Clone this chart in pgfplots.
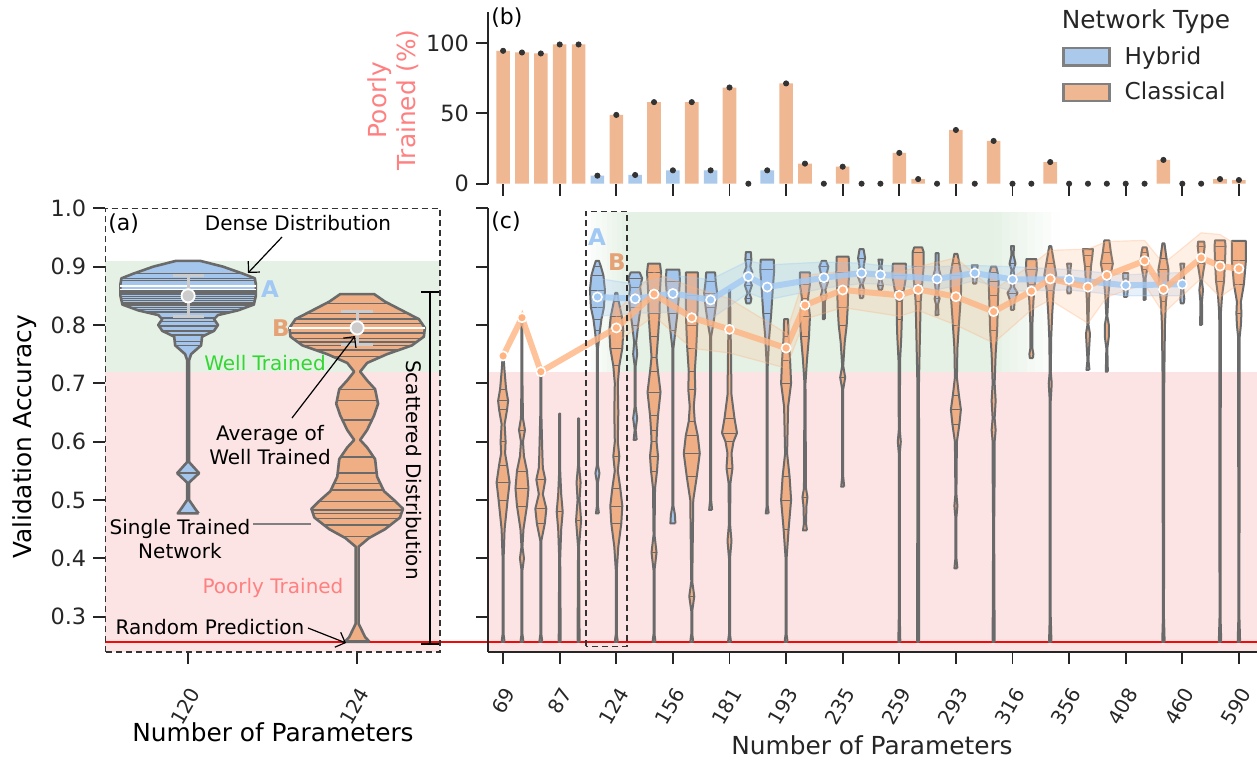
\documentclass[border=0pt]{standalone}
\usepackage{fontspec}
\setmainfont{DejaVu Sans}
\usepackage{pgfplots}
\pgfplotsset{compat=1.18}
\usetikzlibrary{arrows.meta}

\definecolor{barH}{RGB}{171,201,234}
\definecolor{barC}{RGB}{239,183,146}
\definecolor{vioH}{RGB}{164,198,236}
\definecolor{vioC}{RGB}{240,174,132}
\definecolor{lineH}{RGB}{161,201,244}
\definecolor{lineC}{RGB}{255,180,130}
\definecolor{edge}{RGB}{106,106,106}
\definecolor{pinkbg}{RGB}{252,228,228}
\definecolor{greenbg}{RGB}{229,241,229}
\definecolor{txt}{RGB}{38,38,38}
\definecolor{coral}{RGB}{255,128,128}
\definecolor{wellgreen}{RGB}{50,215,50}
\definecolor{meangray}{RGB}{204,204,204}
\definecolor{rline}{RGB}{240,10,10}

\newcommand\tickfont{\fontsize{11.2}{13}\selectfont}
\newcommand\xtickfont{\fontsize{10}{12}\selectfont}
\newcommand\labfont{\fontsize{12.4}{14.6}\selectfont}
\newcommand\annfont{\fontsize{10}{12.4}\selectfont}

\pgfplotsset{
  vC/.style={fill=vioC, draw=edge, line width=1pt, line join=round},
  vH/.style={fill=vioH, draw=edge, line width=1pt, line join=round},
  vCa/.style={fill=vioC, draw=edge, line width=1.3pt, line join=round},
  vHa/.style={fill=vioH, draw=edge, line width=1.3pt, line join=round},
  stk/.style={edge, line width=0.7pt, unbounded coords=jump},
  stkw/.style={white, line width=0.9pt, unbounded coords=jump},
  stkc/.style={edge, line width=0.35pt, unbounded coords=jump},
}

% violin: #1 position, #2 axis units per pixel, #3 style, #4 list of y/halfwidth(px)
\newcommand\violin[4]{%
  \gdef\vR{}\gdef\vL{}\gdef\vF{}\gdef\vS{}%
  \foreach \yy/\ww in {#4}{%
    \pgfmathsetmacro\xr{#1+\ww*#2}%
    \pgfmathsetmacro\xl{#1-\ww*#2}%
    \ifx\vF\empty\xdef\vF{(\xr,\yy)}\fi
    \xdef\vR{\vR(\xr,\yy)}%
    \xdef\vL{(\xl,\yy)\vL}%
    \pgfmathtruncatemacro\wide{\ww>2.4 ? 1 : 0}%
    \ifnum\wide=1 \xdef\vS{\vS(\xl,\yy)(\xr,\yy)(nan,nan)}\fi
  }%
  \edef\tmp{\noexpand\addplot[#3] coordinates {\vR\vL\vF};}%
  \tmp}
% same, with thin sticks at the wider knots
\newcommand\violinS[4]{%
  \violin{#1}{#2}{#3}{#4}%
  \ifx\vS\empty\else
    \edef\tmp{\noexpand\addplot[stkc] coordinates {\vS};}\tmp
  \fi}
% sticks inside a violin, same arguments
\newcommand\sticks[4]{%
  \gdef\vS{}%
  \foreach \yy/\ww in {#4}{%
    \pgfmathsetmacro\xr{#1+\ww*#2}%
    \pgfmathsetmacro\xl{#1-\ww*#2}%
    \xdef\vS{\vS(\xl,\yy)(\xr,\yy)(nan,nan)}%
  }%
  \edef\tmp{\noexpand\addplot[#3] coordinates {\vS};}%
  \tmp}
% spread band: #1 style, #2 list of x/lo/hi
\newcommand\band[2]{%
  \gdef\vR{}\gdef\vL{}\gdef\vF{}%
  \foreach \xx/\lo/\hi in {#2}{%
    \ifx\vF\empty\xdef\vF{(\xx,\hi)}\fi
    \xdef\vR{\vR(\xx,\hi)}%
    \xdef\vL{(\xx,\lo)\vL}%
  }%
  \edef\tmp{\noexpand\addplot[#1] coordinates {\vR\vL\vF};}%
  \tmp}

\pgfplotstableread{
x   m
5   0.848
7   0.845
9   0.854
11  0.843
13  0.883
14  0.865
17  0.881
19  0.889
20  0.886
23  0.879
25  0.889
27  0.878
30  0.878
33  0.868
36  0.870
}\hyb
\pgfplotstableread{
x   m
0   0.747
1   0.8125
2   0.720
6   0.795
8   0.853
10  0.8125
12  0.7925
15  0.7605
16  0.834
18  0.860
21  0.851
22  0.861
24  0.8485
26  0.823
28  0.858
29  0.879
31  0.865
32  0.885
34  0.910
35  0.861
37  0.915
38  0.901
39  0.8965
}\cls

\begin{document}
\begin{tikzpicture}
\path[use as bounding box] (0pt,0pt) rectangle (628.5pt,-380pt);

% ---------------- (b) poorly trained bars
\begin{axis}[
  at={(244pt,-91.85pt)}, anchor=south west, scale only axis,
  width=384.5pt, height=86pt,
  xmin=-0.8, xmax=39.96, ymin=0, ymax=122.3, clip=false, axis on top,
  axis y line*=left, axis x line*=bottom,
  y axis line style={-, txt, line width=0.8pt},
  x axis line style={draw=none},
  xtick={0,3,...,39}, xticklabels={},
  ytick={0,50,100},
  tick align=outside, major tick length=6pt,
  every tick/.style={txt, line width=0.9pt},
  yticklabel style={font=\tickfont, text=txt, /pgf/number format/assume math mode=true},
  legend style={at={(axis description cs:0.7387,0.8465)}, anchor=north west,
    draw=none, fill=none, font=\fontsize{11.6}{13}\selectfont, row sep=3.5pt,
    text=txt},
  legend cell align=left,
]
\addplot[ybar, bar width=0.72, bar shift=0pt, fill=barC, draw=none, forget plot] coordinates {
(0,94.5)(1,93.3)(2,92.6)(3,99)(4,99)(6,48.9)(8,58)(10,58)(12,68.4)(15,71.3)
(16,14.3)(18,12.1)(21,21.9)(22,3.3)(24,38.2)(26,30.4)(29,15.4)(35,16.9)(38,3.3)(39,2.6)};
\addplot[ybar, bar width=0.72, bar shift=0pt, fill=barH, draw=none, forget plot] coordinates {
(5,5.7)(7,6.2)(9,9.5)(11,9.5)(14,9.5)};
\addplot[only marks, mark=*, mark size=1.3pt, black!80, forget plot] coordinates {
(0,94.5)(1,93.3)(2,92.6)(3,99)(4,99)(5,5.7)(6,48.9)(7,6.2)(8,58)(9,9.5)(10,58)(11,9.5)
(12,68.4)(13,0)(14,9.5)(15,71.3)(16,14.3)(17,0)(18,12.1)(19,0)(20,0)(21,21.9)(22,3.3)
(23,0)(24,38.2)(25,0)(26,30.4)(27,0)(28,0)(29,15.4)(30,0)(31,0)(32,0)(33,0)(34,0)
(35,16.9)(36,0)(37,0)(38,3.3)(39,2.6)};
\addlegendimage{legend image code/.code={\draw[fill=barH, draw=gray, line width=1.1pt] (0pt,-4.3pt) rectangle (23pt,4.3pt);}}
\addlegendentry{\hspace*{5pt}Hybrid}
\addlegendimage{legend image code/.code={\draw[fill=barC, draw=gray, line width=1.1pt] (0pt,-4.3pt) rectangle (23pt,4.3pt);}}
\addlegendentry{\hspace*{5pt}Classical}
\end{axis}

% ---------------- (a) zoomed violins
\begin{axis}[
  at={(52.65pt,-326pt)}, anchor=south west, scale only axis,
  width=167.35pt, height=221.85pt,
  xmin=-0.49, xmax=1.49, ymin=0.2395, ymax=1.0, clip=false, axis on top,
  axis line style={black!80, line width=0.6pt, dash pattern=on 3pt off 2pt},
  xtick={0,1}, xticklabels={120,124},
  ytick={0.3,0.4,0.5,0.6,0.7,0.8,0.9,1.0},
  xtick pos=left, ytick pos=left,
  tick align=outside, major tick length=6pt,
  every tick/.style={solid, txt, line width=0.9pt},
  yticklabel style={font=\tickfont, text=txt, /pgf/number format/.cd, fixed, fixed zerofill, precision=1, assume math mode=true},
  xticklabel shift=12.5pt,
  xticklabel style={font=\xtickfont, text=txt, rotate=60, anchor=east, xshift=5pt, yshift=-3pt},
]
\fill[pinkbg] (axis cs:-0.49,0.2395) rectangle (axis cs:1.49,0.72);
\fill[greenbg] (axis cs:-0.49,0.72) rectangle (axis cs:1.49,0.91);
\addplot[draw=rline, line width=0.7pt] coordinates {(-0.49,0.257)(1.768,0.257)};
\violin{0}{0.005893}{vHa}{0.477/10.5,0.485/7,0.50/1,0.53/1,0.546/11,0.565/1,0.74/1,0.75/3,0.765/13,0.78/14,0.79/26,0.80/30,0.81/26,0.817/30,0.825/50,0.835/66,0.85/68,0.87/68,0.88/67,0.888/55,0.90/35,0.91/12}
\sticks{0}{0.005893}{stk}{0.479/9,0.546/10.5,0.765/13,0.772/13.5,0.783/18,0.79/26,0.798/29,0.806/27,0.812/27,0.822/42,0.827/55,0.830/59,0.834/64,0.838/66.5,0.842/67,0.845/67.5,0.849/68,0.852/68,0.855/68,0.858/68,0.876/67.5,0.880/66,0.888/55}
\sticks{0}{0.005893}{stkw}{0.867/68,0.861/68}
\violin{1}{0.005893}{vCa}{0.257/12.5,0.265/8,0.288/1.5,0.42/1.5,0.435/12,0.45/28,0.47/43,0.485/46,0.50/37,0.515/27,0.54/20,0.57/18,0.59/10,0.603/3,0.62/10,0.645/17,0.665/21,0.69/18,0.705/10,0.72/3,0.735/10,0.75/30,0.765/55,0.78/67,0.795/68,0.81/62,0.825/45,0.84/28,0.853/17}
\sticks{1}{0.005893}{stk}{0.259/12.5,0.437/14,0.457/33,0.468/41,0.477/44,0.483/45.6,0.497/38.8,0.517/26.6,0.528/23.4,0.546/19.6,0.574/16.7,0.637/15,0.671/20,0.689/18,0.746/24,0.757/41,0.765/55,0.771/60,0.777/64.6,0.786/67.4,0.803/64.5,0.81/62,0.82/51,0.837/31}
\sticks{1}{0.005893}{stkw}{0.795/68}
% mean of well trained with spread
\addplot[meangray, line width=1.6pt, unbounded coords=jump] coordinates {
(0,0.815)(0,0.885)(nan,nan)(-0.092,0.885)(0.092,0.885)(nan,nan)(-0.092,0.815)(0.092,0.815)(nan,nan)
(1,0.767)(1,0.823)(nan,nan)(0.906,0.823)(1.094,0.823)(nan,nan)(0.906,0.767)(1.094,0.767)};
\addplot[only marks, mark=*, mark size=3.3pt, fill=meangray, draw=white, line width=0.9pt] coordinates {(0,0.85)(1,0.795)};
\end{axis}

% ---------------- (c) all networks
\def\vs{0.053}
\begin{axis}[
  at={(244pt,-326pt)}, anchor=south west, scale only axis,
  width=384.5pt, height=221.85pt,
  xmin=-0.8, xmax=39.96, ymin=0.2395, ymax=1.0, axis on top, clip=false,
  axis x line*=bottom, axis y line*=left,
  axis line style={-, txt, line width=0.8pt},
  xtick={0,3,...,39},
  xticklabels={69,87,124,156,181,193,235,259,293,316,356,408,460,590},
  ytick={0.3,0.4,0.5,0.6,0.7,0.8,0.9,1.0}, yticklabels={},
  tick align=outside, major tick length=6pt,
  every tick/.style={txt, line width=0.9pt},
  xticklabel shift=12.5pt,
  xticklabel style={font=\xtickfont, text=txt, rotate=60, anchor=east, xshift=5pt, yshift=-3pt},
]
\fill[pinkbg] (axis cs:-0.8,0.2395) rectangle (axis cs:39.96,0.72);
\fill[greenbg] (axis cs:6.5,0.72) rectangle (axis cs:26.1,0.993);
% fading edges of the green region
\foreach \i in {0,...,7}{%
  \pgfmathsetmacro\xa{4.4+\i*0.275}\pgfmathsetmacro\xb{4.4+(\i+1)*0.275+0.02}%
  \pgfmathsetmacro\pc{(\i+0.5)*12.5}%
  \edef\tmp{\noexpand\fill[greenbg!\pc!white] (axis cs:\xa,0.72) rectangle (axis cs:\xb,0.993);}\tmp
  \pgfmathsetmacro\xa{26+\i*0.4375}\pgfmathsetmacro\xb{26+(\i+1)*0.4375+0.02}%
  \pgfmathsetmacro\pc{100-(\i+0.5)*12.5}%
  \edef\tmp{\noexpand\fill[greenbg!\pc!white] (axis cs:\xa,0.72) rectangle (axis cs:\xb,0.993);}\tmp
}
\addplot[draw=rline, line width=0.7pt] coordinates {(-0.8,0.257)(39.96,0.257)};

\violinS{0}{\vs}{vC}{0.257/1.5,0.27/0.5,0.40/0.5,0.45/1.5,0.50/4.5,0.53/6.5,0.56/4,0.58/2,0.60/2.5,0.63/1.5,0.655/4,0.67/5,0.69/3,0.72/1.5,0.745/0.5}
\violinS{1}{\vs}{vC}{0.257/1.5,0.27/0.5,0.38/0.5,0.40/2,0.42/0.5,0.45/1.5,0.49/5,0.52/6.5,0.55/5,0.575/2,0.60/1,0.62/3,0.64/1,0.70/0.5,0.812/0.5}
\violinS{2}{\vs}{vC}{0.257/1.5,0.27/0.5,0.43/0.5,0.46/4,0.485/5.5,0.51/2,0.535/4.5,0.555/2,0.58/1.5,0.65/0.5,0.72/0.5}
\violinS{3}{\vs}{vC}{0.257/1,0.40/0.5,0.45/1.5,0.48/3,0.51/1.5,0.55/0.5,0.648/0.5}
\violinS{4}{\vs}{vC}{0.257/1,0.42/0.5,0.465/2.5,0.50/1,0.53/2,0.56/0.5,0.64/0.5}
\violinS{5}{\vs}{vH}{0.477/1.5,0.49/0.5,0.53/0.5,0.546/2,0.56/0.5,0.76/0.5,0.79/2.5,0.81/4,0.83/6.5,0.86/7.5,0.885/6,0.90/3.5,0.91/1.5}
\violinS{6}{\vs}{vC}{0.257/1.5,0.27/0.5,0.38/0.5,0.42/2,0.46/5,0.49/6,0.52/4,0.55/1.5,0.575/3,0.60/1.5,0.65/2,0.70/1.5,0.73/3,0.76/6,0.79/7,0.815/5.5,0.84/2.5,0.855/1}
\violinS{7}{\vs}{vH}{0.603/1.5,0.62/0.5,0.64/2,0.66/0.5,0.73/0.5,0.75/2,0.77/1,0.80/3,0.83/5.5,0.85/6,0.865/5,0.88/7,0.89/4.5}
\violinS{8}{\vs}{vC}{0.257/1.5,0.27/0.5,0.38/0.5,0.41/2.5,0.44/0.5,0.52/1,0.55/3,0.575/4,0.60/2.5,0.62/3,0.645/4,0.685/6.5,0.72/4,0.745/2.5,0.78/4,0.82/5.5,0.86/6,0.89/7,0.905/6}
\violinS{9}{\vs}{vH}{0.46/2.5,0.475/2,0.49/0.5,0.76/0.5,0.79/2.5,0.82/4.5,0.85/6,0.875/7,0.895/6.5}
\violinS{10}{\vs}{vC}{0.257/1.5,0.27/0.5,0.31/0.5,0.335/2.5,0.36/0.5,0.50/1.5,0.54/5,0.58/8,0.61/6,0.635/3,0.66/2,0.69/3.5,0.72/3,0.76/4.5,0.80/5.5,0.85/6,0.89/6}
\violinS{11}{\vs}{vH}{0.483/1.5,0.50/0.5,0.78/0.5,0.80/2.5,0.83/5,0.855/6.5,0.875/5,0.89/4.5}
\violinS{12}{\vs}{vC}{0.257/1.5,0.27/0.5,0.40/0.5,0.43/2,0.46/0.5,0.53/1,0.555/3,0.58/2,0.60/4,0.615/7.5,0.64/5,0.68/2,0.75/1.5,0.80/1,0.86/0.5}
\violinS{13}{\vs}{vH}{0.837/2,0.845/3,0.855/1,0.868/3.5,0.878/1.5,0.89/4,0.90/2,0.912/3,0.925/2.5}
\violinS{14}{\vs}{vH}{0.477/1.5,0.49/0.5,0.73/0.5,0.78/2,0.82/4,0.86/5.5,0.895/7,0.912/6.5}
\violinS{15}{\vs}{vC}{0.257/1.5,0.27/0.5,0.40/0.5,0.45/2.5,0.50/5,0.54/3.5,0.58/1,0.62/1.5,0.66/2,0.70/5,0.74/4,0.78/2.5,0.81/2}
\violinS{16}{\vs}{vC}{0.448/2,0.46/1,0.49/1.5,0.505/2.5,0.52/1,0.70/0.5,0.74/2,0.78/4,0.815/5,0.845/3,0.87/5,0.89/5}
\violinS{17}{\vs}{vH}{0.81/1,0.84/1,0.85/3,0.86/1.5,0.873/4,0.885/2.5,0.90/4.5,0.91/2}
\violinS{18}{\vs}{vC}{0.523/1.5,0.54/0.5,0.69/0.5,0.71/2.5,0.73/0.5,0.77/2,0.80/4,0.83/5,0.86/5.5,0.89/6.5,0.917/6}
\violinS{19}{\vs}{vH}{0.846/1.5,0.86/2.5,0.87/1,0.885/4,0.90/2,0.915/3.5,0.93/2}
\violinS{20}{\vs}{vH}{0.86/1.5,0.868/2.5,0.878/1,0.89/2,0.90/1,0.912/2}
\violinS{21}{\vs}{vC}{0.257/1,0.30/0.5,0.58/0.5,0.60/1.5,0.62/0.5,0.74/0.8,0.78/2,0.81/2.5,0.84/2.5,0.86/4.5,0.885/7,0.905/6.5}
\violinS{22}{\vs}{vC}{0.257/1,0.70/0.8,0.76/1.5,0.80/2,0.84/2.5,0.87/4,0.90/5.5,0.925/5.5,0.933/4}
\violinS{23}{\vs}{vH}{0.817/1.5,0.835/1,0.845/2.5,0.855/1,0.87/2,0.882/4,0.895/2,0.91/1.5,0.923/1.5}
\violinS{24}{\vs}{vC}{0.383/1.5,0.40/0.5,0.47/0.5,0.49/1.5,0.51/0.5,0.60/1,0.63/3.5,0.655/5,0.68/3,0.71/1,0.76/1.5,0.80/3,0.85/5,0.885/5.5,0.905/3.5,0.922/1.5}
\violinS{25}{\vs}{vH}{0.871/1.5,0.88/2,0.888/1,0.897/2.5,0.902/3}
\violinS{26}{\vs}{vC}{0.257/1,0.45/0.5,0.55/1,0.60/1,0.62/2,0.64/1,0.67/2,0.70/1,0.75/2,0.79/3.5,0.82/4,0.85/4.5,0.875/5,0.89/4,0.90/2.5}
\violinS{27}{\vs}{vH}{0.826/1.5,0.84/2,0.855/5,0.865/1.5,0.88/2,0.895/1,0.905/3,0.92/1,0.935/1.5}
\violinS{28}{\vs}{vC}{0.743/1.5,0.75/2,0.76/1,0.80/1,0.84/2,0.87/3.5,0.895/5.5,0.913/5}
\violinS{29}{\vs}{vC}{0.257/1.2,0.30/0.5,0.67/0.5,0.70/1.5,0.72/0.5,0.78/1,0.82/2,0.86/3.5,0.885/6,0.905/4,0.925/2,0.935/1}
\violinS{30}{\vs}{vH}{0.854/1.5,0.86/2,0.87/1,0.88/2,0.89/1,0.905/2}
\violinS{31}{\vs}{vC}{0.723/1.5,0.74/0.5,0.77/1.5,0.785/2,0.80/0.5,0.84/1,0.87/2,0.90/3,0.92/4.5,0.93/5}
\violinS{32}{\vs}{vC}{0.72/1,0.76/0.5,0.78/2,0.80/2,0.815/0.5,0.85/1.5,0.88/3,0.905/6,0.925/4,0.945/2.5}
\violinS{33}{\vs}{vH}{0.848/1.5,0.86/2,0.87/1,0.88/2.5,0.889/2.5}
\violinS{34}{\vs}{vC}{0.843/1,0.88/1,0.895/2.5,0.91/4,0.925/3,0.933/2}
\violinS{35}{\vs}{vC}{0.257/1.2,0.30/0.5,0.55/0.8,0.70/0.8,0.80/1.5,0.84/2.5,0.87/4.5,0.895/5,0.915/3,0.94/1}
\violinS{36}{\vs}{vH}{0.837/1.5,0.845/2,0.86/1,0.875/2,0.89/1,0.905/2}
\violinS{37}{\vs}{vC}{0.80/1,0.84/0.8,0.86/1.8,0.875/0.8,0.89/2,0.905/3.5,0.92/2.5,0.935/3.5,0.943/3}
\violinS{38}{\vs}{vC}{0.257/1.2,0.30/0.5,0.82/0.8,0.85/2,0.875/4,0.91/5,0.935/5.5,0.945/5}
\violinS{39}{\vs}{vC}{0.257/1.2,0.30/0.5,0.78/0.8,0.80/2,0.82/2.5,0.84/2,0.87/5,0.91/7,0.944/7}

% spread bands (x/lo/hi)
\band{fill=lineH, fill opacity=0.25, draw=lineH, draw opacity=0.35, line width=0.6pt}{5/0.815/0.880,7/0.820/0.870,9/0.822/0.885,11/0.810/0.878,13/0.855/0.910,14/0.843/0.903,17/0.863/0.908,19/0.871/0.906,20/0.870/0.902,23/0.860/0.900,25/0.876/0.902,27/0.858/0.900,30/0.860/0.895,33/0.850/0.886,36/0.850/0.890}
\band{fill=lineC, fill opacity=0.2, draw=lineC, draw opacity=0.35, line width=0.6pt}{6/0.770/0.822,8/0.815/0.890,10/0.760/0.865,12/0.752/0.845,15/0.726/0.786,16/0.810/0.885,18/0.830/0.892,21/0.815/0.890,22/0.825/0.900,24/0.800/0.915,26/0.769/0.860,28/0.826/0.903,29/0.843/0.928,31/0.803/0.930,32/0.848/0.943,34/0.870/0.945,35/0.820/0.905,37/0.880/0.958,38/0.848/0.955,39/0.870/0.935}
% means of well trained networks
\addplot[lineH, line width=3pt, opacity=0.8, mark=*, mark size=2.3pt,
  mark options={solid, opacity=1, fill=lineH, draw=white, line width=0.8pt}] table[x=x, y=m] {\hyb};
\addplot[lineC, line width=3pt, opacity=0.8, mark=*, mark size=2.3pt,
  mark options={solid, opacity=1, fill=lineC, draw=white, line width=0.8pt}] table[x=x, y=m] {\cls};
\draw[black!80, line width=0.7pt, dash pattern=on 3pt off 2pt] (axis cs:4.4,0.249) rectangle (axis cs:6.57,0.995);
\end{axis}

% ---------------- labels and notes, in pixel units
\begin{scope}[x=0.5pt, y=-0.5pt]
\node[rotate=90, font=\labfont, text=black] at (25,437) {Validation Accuracy};
\node[font=\labfont, text=black] at (273,732) {Number of Parameters};
\node[font=\labfont, text=txt] at (872,745) {Number of Parameters};
\node[rotate=90, align=center, font=\labfont, text=coral] at (393,100) {Poorly\\Trained (\%)};
\node[font=\fontsize{12.4}{14}\selectfont, text=txt] at (1146,22) {Network Type};
\node[font=\fontsize{11}{13}\selectfont, anchor=west, inner sep=0pt] at (108,224) {(a)};
\node[font=\fontsize{11}{13}\selectfont, anchor=west, inner sep=0pt] at (491,18) {(b)};
\node[font=\fontsize{11}{13}\selectfont, anchor=west, inner sep=0pt] at (491,222) {(c)};
% panel (a) notes
\node[font=\annfont] at (298,223) {Dense Distribution};
\draw[-{Straight Barb[length=4pt]}, line width=0.6pt] (282,237) -- (248,273);
\node[font=\bfseries\fontsize{11.5}{13}\selectfont, text=lineH] at (270,289) {A};
\node[font=\bfseries\fontsize{11.5}{13}\selectfont, text=lineC!90!black] at (281,328) {B};
\node[font=\annfont, text=wellgreen] at (265,363) {Well Trained};
\node[font=\annfont, align=center] at (270,445) {Average of\\Well Trained};
\draw[-{Straight Barb[length=4pt]}, line width=0.6pt] (292,418) -- (355,336);
\node[font=\annfont, align=center] at (180,539) {Single Trained\\Network};
\draw[gray, line width=0.8pt] (253,524) -- (311,524);
\node[font=\annfont, text=coral] at (273,588) {Poorly Trained};
\node[font=\annfont] at (210,627) {Random Prediction};
\draw[-{Straight Barb[length=4pt]}, line width=0.6pt] (308,628) -- (346,643);
\node[font=\annfont, rotate=-90] at (414,470) {Scattered Distribution};
\draw[line width=0.7pt] (430,292) -- (430,644) (421,292) -- (439,292) (421,644) -- (439,644);
% panel (c) notes
\node[font=\bfseries\fontsize{11.5}{13}\selectfont, text=lineH] at (597,237) {A};
\node[font=\bfseries\fontsize{11.5}{13}\selectfont, text=lineC!90!black] at (617,262) {B};
\end{scope}
\end{tikzpicture}
\end{document}
